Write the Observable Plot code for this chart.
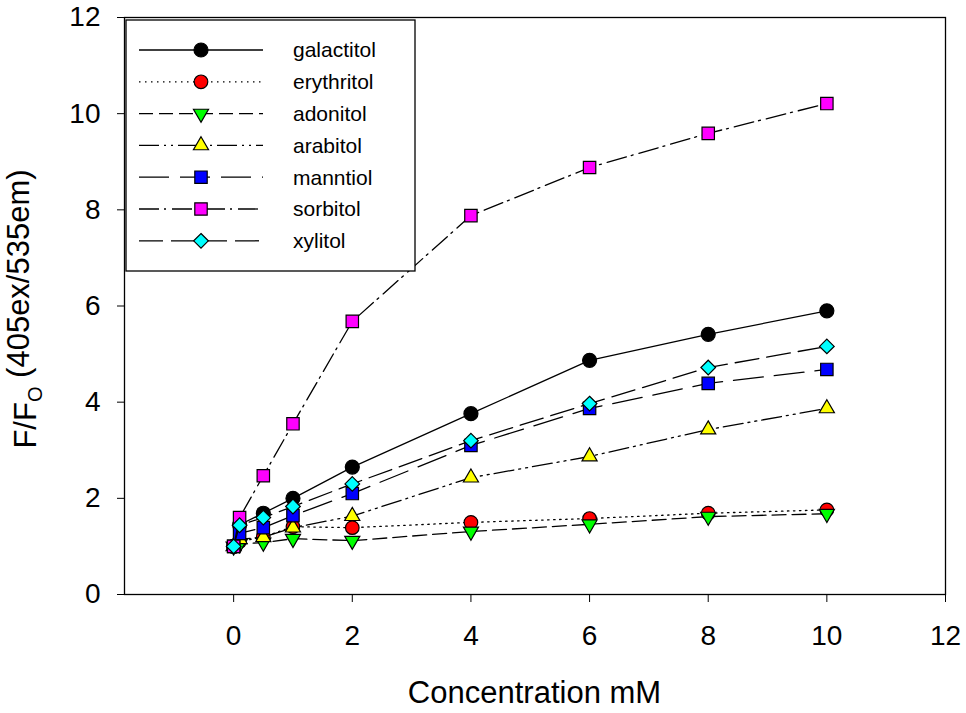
<!DOCTYPE html>
<html>
<head>
<meta charset="utf-8">
<script src="https://cdn.jsdelivr.net/npm/d3@7"></script>
<script src="https://cdn.jsdelivr.net/npm/@observablehq/plot@0.6"></script>
<style>
  html, body { margin: 0; padding: 0; background: #fff; }
  #chart svg { display: block; }
</style>
</head>
<body>
<div id="chart"></div>
<script>
// ---------------- data ----------------
const concentrations = [0, 0.1, 0.5, 1, 2, 4, 6, 8, 10];
const seriesNames = ["galactitol", "erythritol", "adonitol", "arabitol", "manntiol", "sorbitol", "xylitol"];
const galactitol = [1.0, 1.45, 1.69, 2.0, 2.65, 3.76, 4.87, 5.41, 5.9];
const erythritol = [1.0, 1.1, 1.2, 1.41, 1.39, 1.5, 1.58, 1.69, 1.76];
const adonitol   = [1.0, 1.05, 1.08, 1.16, 1.12, 1.31, 1.46, 1.62, 1.68];
const arabitol   = [1.0, 1.15, 1.19, 1.39, 1.63, 2.43, 2.87, 3.43, 3.87];
const manntiol   = [1.0, 1.27, 1.39, 1.64, 2.1, 3.1, 3.87, 4.39, 4.68];
const sorbitol   = [1.0, 1.6, 2.47, 3.55, 5.68, 7.88, 8.88, 9.59, 10.21];
const xylitol    = [1.0, 1.44, 1.6, 1.83, 2.3, 3.2, 3.97, 4.72, 5.16];
const seriesValues = [galactitol, erythritol, adonitol, arabitol, manntiol, sorbitol, xylitol];
const xTicks = [0, 2, 4, 6, 8, 10, 12];
const yTicks = [0, 2, 4, 6, 8, 10, 12];
const xLabel = "Concentration mM";

// ---------------- styles ----------------
const fills = ["#000000", "#ff0000", "#00ff00", "#ffff00", "#0000ff", "#ff00ff", "#00ffff"];
const dashes = [null, "1.5,4.5", "14,6", "20,5,2,5,2,5", "30,11", "20,5,2,6", "24,8"];
const triangleDown = {
  draw(ctx, size) {
    const y = Math.sqrt(size / (Math.sqrt(3) * 3));
    ctx.moveTo(0, y * 2);
    ctx.lineTo(-Math.sqrt(3) * y, -y);
    ctx.lineTo(Math.sqrt(3) * y, -y);
    ctx.closePath();
  }
};
const symbols = [d3.symbolCircle, d3.symbolCircle, triangleDown, d3.symbolTriangle, d3.symbolSquare, d3.symbolSquare, d3.symbolDiamond2];
const radii = [7, 6.8, 5.6, 5.6, 7, 7, 6.6];
const FONT = "'Liberation Sans', Arial, sans-serif";

const rows = seriesNames.flatMap((name, i) =>
  concentrations.map((c, j) => ({series: name, x: c, y: seriesValues[i][j]})));

const marks = [];
seriesNames.forEach((name, i) => {
  const d = rows.filter(r => r.series === name);
  marks.push(Plot.line(d, {x: "x", y: "y", stroke: "#000", strokeWidth: 1.3, strokeDasharray: dashes[i]}));
  marks.push(Plot.dot(d, {x: "x", y: "y", symbol: symbols[i], r: radii[i], fill: fills[i], stroke: "#000", strokeWidth: 1.2}));
});

const plot = Plot.plot({
  width: 966,
  height: 713,
  marginLeft: 124,
  marginRight: 21,
  marginTop: 17,
  marginBottom: 119,
  style: {fontFamily: FONT, background: "#fff", color: "#000"},
  x: {domain: [-1.84, 12]},
  y: {domain: [0, 12]},
  marks: [
    Plot.axisX({ticks: xTicks, tickSize: 8, tickPadding: 23, fontSize: 28, label: null, tickFormat: d => String(d)}),
    Plot.axisY({ticks: yTicks, tickSize: 7, tickPadding: 17, fontSize: 28, label: null, tickFormat: d => String(d)}),
    ...marks,
    Plot.frame({stroke: "#000", strokeWidth: 1.3})
  ]
});

const svg = d3.select(plot);

// x axis title
svg.append("text")
  .attr("x", (124 + 945) / 2)
  .attr("y", 703)
  .attr("text-anchor", "middle")
  .style("font-family", FONT)
  .style("font-size", "31px")
  .attr("fill", "#000")
  .text(xLabel);

// y axis title with subscript
const yt = svg.append("text")
  .attr("transform", `translate(36,309) rotate(-90)`)
  .attr("text-anchor", "middle")
  .style("font-family", FONT)
  .style("font-size", "31px")
  .attr("fill", "#000");
yt.append("tspan").text("F/F");
yt.append("tspan").attr("dy", "0.28em").style("font-size", "20px").text("O");
yt.append("tspan").attr("dy", "-0.42em").text(" (405ex/535em)");

// legend
const lg = svg.append("g");
lg.append("rect")
  .attr("x", 126).attr("y", 20).attr("width", 289).attr("height", 251)
  .attr("fill", "#fff").attr("stroke", "#000").attr("stroke-width", 1.3);
seriesNames.forEach((name, i) => {
  const cy = 50 + i * 31.8;
  lg.append("line")
    .attr("x1", 139).attr("x2", 263).attr("y1", cy).attr("y2", cy)
    .attr("stroke", "#000").attr("stroke-width", 1.3)
    .attr("stroke-dasharray", dashes[i]);
  lg.append("path")
    .attr("transform", `translate(201,${cy})`)
    .attr("d", d3.symbol(symbols[i], Math.PI * radii[i] * radii[i])())
    .attr("fill", fills[i]).attr("stroke", "#000").attr("stroke-width", 1.2);
  lg.append("text")
    .attr("x", 293).attr("y", cy).attr("dy", "0.35em")
    .attr("text-anchor", "start")
    .style("font-family", FONT).style("font-size", "21px")
    .attr("fill", "#000")
    .text(name);
});

document.getElementById("chart").appendChild(plot);
</script>
</body>
</html>
